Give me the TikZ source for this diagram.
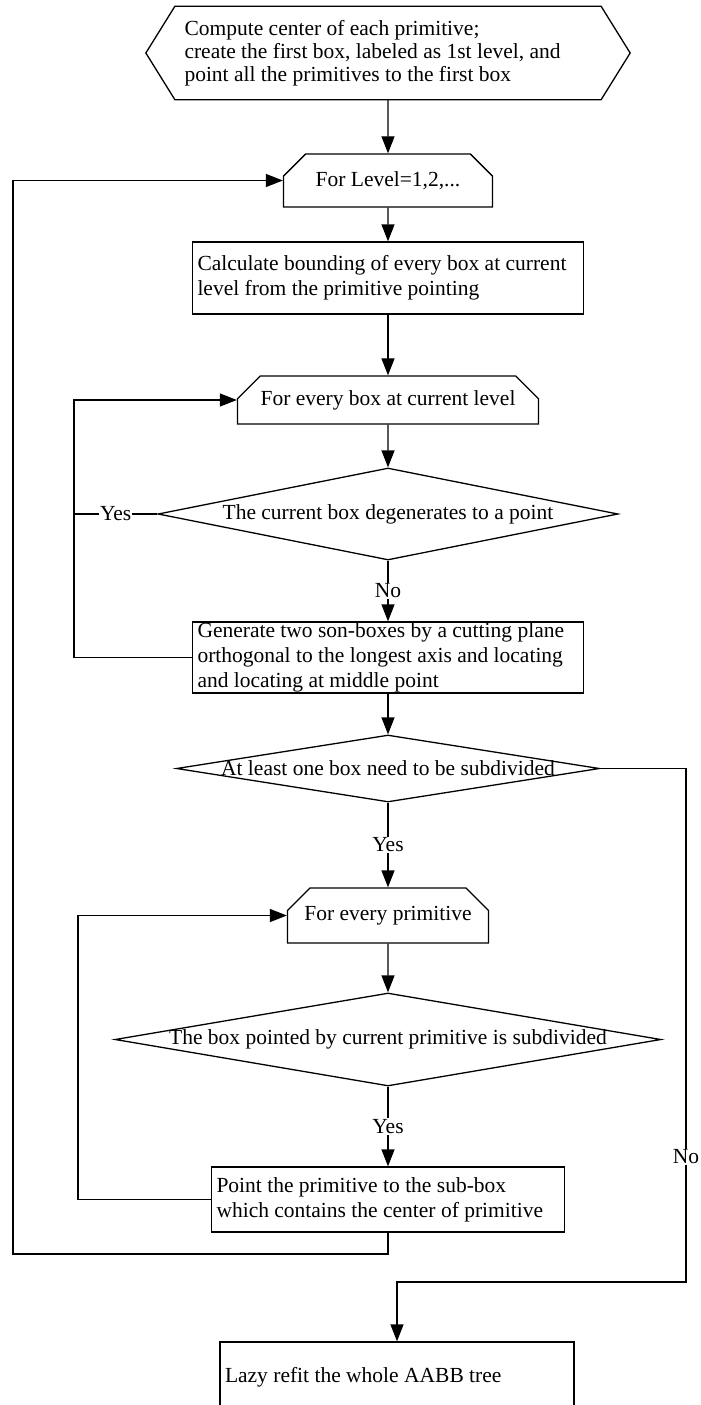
\documentclass[tikz,border=0pt]{standalone}
\usepackage{fontspec}
\setmainfont{Liberation Serif}
\usepackage{tikz}
\usetikzlibrary{shapes.geometric,shapes.misc,arrows.meta,calc}

\begin{document}
\begin{tikzpicture}[x=1pt, y=-1pt, line width=1.3pt,
    font=\fontsize{21.5}{25}\selectfont,
    flow/.style={-{Triangle[length=17pt,width=13pt]}},
    plainbox/.style={draw, rectangle, inner sep=0pt, inner xsep=5pt, align=flush left},
    loopbox/.style={draw, chamfered rectangle, chamfered rectangle corners={north west,north east},
        chamfered rectangle xsep=13pt, chamfered rectangle ysep=13pt, inner sep=0pt},
    testbox/.style={draw, diamond, inner sep=0pt},
    tag/.style={fill=white, inner sep=1pt}]
        \useasboundingbox (0,0) rectangle (701,1405);
        \coordinate (outer) at (13,1254);
        \coordinate (loopa) at (74,520);
        \coordinate (loopb) at (78,1050);
        \coordinate (rightturn) at (686,1282);

        % boxes
        \node[draw=none, inner sep=0pt, inner xsep=9pt, minimum width=425pt, minimum height=92pt,
              text width=407pt, align=flush left, font=\fontsize{21.5}{23}\selectfont] (start) at (388,53)
              {Compute center of each primitive;\\create the first box, labeled as 1st level, and\\point all the primitives to the first box};
        \draw (start.north west) -- (start.north east) -- ([xshift=29pt]start.east) -- (start.south east)
              -- (start.south west) -- ([xshift=-29pt]start.west) -- cycle;
        \node[loopbox, minimum width=209pt, minimum height=53pt] (lvl) at (388,180.5) {For Level=1,2,...};
        \node[plainbox, minimum width=391pt, minimum height=72pt, text width=381pt] (calc) at (388,278)
              {Calculate bounding of every box at current\\level from the primitive pointing};
        \node[loopbox, minimum width=301pt, minimum height=48pt] (everybox) at (388,400) {For every box at current level};
        \node[testbox, minimum width=460pt, minimum height=92pt,
              label=center:{The current box degenerates to a point}] (degen) at (388,514) {};
        \node[plainbox, minimum width=391pt, minimum height=71pt, text width=381pt] (gen) at (388,657.5)
              {Generate two son-boxes by a cutting plane\\orthogonal to the longest axis and locating\\and locating at middle point};
        \node[testbox, minimum width=423pt, minimum height=67pt,
              label=center:{At least one box need to be subdivided}] (sub) at (388,768.5) {};
        \node[loopbox, minimum width=201pt, minimum height=55pt] (everyprim) at (388,915.5) {For every primitive};
        \node[testbox, minimum width=546pt, minimum height=93pt,
              label=center:{The box pointed by current primitive is subdivided}] (pointed) at (388,1039.5) {};
        \node[plainbox, minimum width=353pt, minimum height=65pt, text width=343pt] (pointbox) at (388,1199.5)
              {Point the primitive to the sub-box\\which contains the center of primitive};
        \node[plainbox, minimum width=354pt, minimum height=70pt, text width=344pt] (lazy) at (397,1377)
              {Lazy refit the whole AABB tree};

        % main line
        \draw[flow] (start) -- (lvl);
        \draw[flow] (lvl) -- (calc);
        \draw[flow] (calc) -- (everybox);
        \draw[flow] (everybox) -- (degen);
        \draw[flow] (degen) -- (gen) node[tag, midway] {No};
        \draw[flow] (gen) -- (sub);
        \draw[flow] (sub) -- (everyprim) node[tag, midway] {Yes};
        \draw[flow] (everyprim) -- (pointed);
        \draw[flow] (pointed) -- (pointbox) node[tag, midway] {Yes};

        % loops
        \draw (degen.west) -- (degen.west -| loopa) node[tag, midway] {Yes};
        \draw[flow] (gen.west) -| (loopa) |- (everybox.west);
        \draw[flow] (pointbox.west) -| (loopb) |- (everyprim.west);
        \draw[flow] (pointbox.south) |- (outer) |- (lvl.west);

        % exit
        \draw[flow] (sub.east) -| (rightturn) -| (lazy.north);
        \node[tag] (nolab) at (686,1157) {No};
    \end{tikzpicture}
\end{document}
